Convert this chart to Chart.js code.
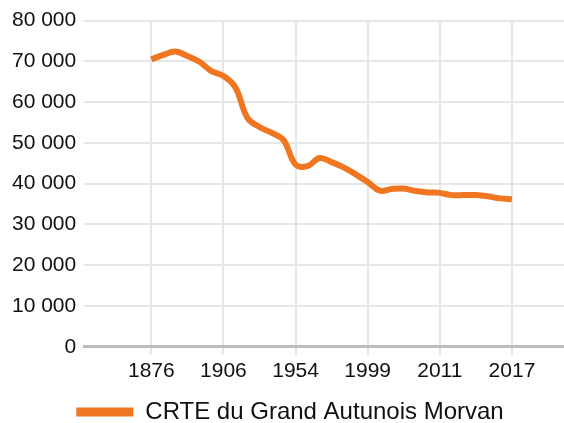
<!DOCTYPE html>
<html>
<head>
<meta charset="utf-8">
<script src="https://cdn.jsdelivr.net/npm/chart.js@4/dist/chart.umd.min.js"></script>
<style>
  html, body { margin: 0; padding: 0; background: #fff; }
</style>
</head>
<body>
<canvas id="chart" width="564" height="423"></canvas>
<script>
// années de recensement (une par point)
const years = ['1876', '1881', '1886', '1891', '1896', '1901', '1906', '1911', '1921', '1926',
  '1931', '1936', '1954', '1962', '1968', '1975', '1982', '1990', '1999', '2006',
  '2007', '2008', '2009', '2010', '2011', '2012', '2013', '2014', '2015', '2016', '2017'];

// population
const population = [70500, 71600, 72400, 71300, 69900, 67600, 66400, 63600, 56100, 53900,
  52500, 50700, 44700, 44300, 46300, 45300, 44000, 42300, 40400, 38300,
  38700, 38800, 38200, 37850, 37750, 37200, 37200, 37200, 36900, 36400, 36200];

// années affichées sur l'axe
const shownYears = ['1876', '1906', '1954', '1999', '2011', '2017'];

const seriesName = 'CRTE du Grand Autunois Morvan';
const orange = '#f07622';
const font = "'Liberation Sans', Arial, sans-serif";

function formatNumber(v) {
  return String(v).replace(/\B(?=(\d{3})+(?!\d))/g, ' ');
}

const points = population.map((v, i) => ({ x: i, y: v }));
const tickIndexes = shownYears.map(y => years.indexOf(y));

// décale un peu la légende vers la droite
const legendShift = {
  id: 'legendShift',
  afterLayout(chart) {
    chart.legend.left += 6;
    chart.legend.right += 6;
  }
};

new Chart(document.getElementById('chart'), {
  type: 'line',
  data: {
    datasets: [{
      label: seriesName,
      data: points,
      borderColor: orange,
      backgroundColor: orange,
      borderWidth: 6,
      pointRadius: 0,
      tension: 0.4,
      fill: false
    }]
  },
  plugins: [legendShift],
  options: {
    responsive: false,
    animation: false,
    layout: { padding: { left: 4, right: 0, top: 8, bottom: -11 } },
    plugins: {
      tooltip: { enabled: false },
      legend: {
        position: 'bottom',
        labels: {
          boxWidth: 57,
          boxHeight: 9,
          padding: 3,
          color: '#111',
          font: { family: font, size: 24 },
          generateLabels(chart) {
            const items = Chart.defaults.plugins.legend.labels.generateLabels(chart);
            items.forEach(it => { it.lineWidth = 0; });
            return items;
          }
        }
      }
    },
    scales: {
      x: {
        type: 'linear',
        min: -5.58,
        max: 34.33,
        afterBuildTicks(axis) {
          axis.ticks = tickIndexes.map(v => ({ value: v }));
        },
        afterFit(axis) {
          axis.height += 9;
        },
        ticks: {
          autoSkip: false,
          maxRotation: 0,
          padding: 4,
          color: '#111',
          font: { family: font, size: 21 },
          callback: v => years[v]
        },
        grid: { color: '#e6e6e6', lineWidth: 2, tickLength: 8 },
        border: { display: true, color: '#bdbdbd', width: 3 }
      },
      y: {
        min: 0,
        max: 80000,
        ticks: {
          stepSize: 10000,
          padding: 8,
          color: '#111',
          font: { family: font, size: 21 },
          callback: v => formatNumber(v)
        },
        grid: { color: '#e6e6e6', lineWidth: 2, drawTicks: false },
        border: { display: false }
      }
    }
  }
});
</script>
</body>
</html>
